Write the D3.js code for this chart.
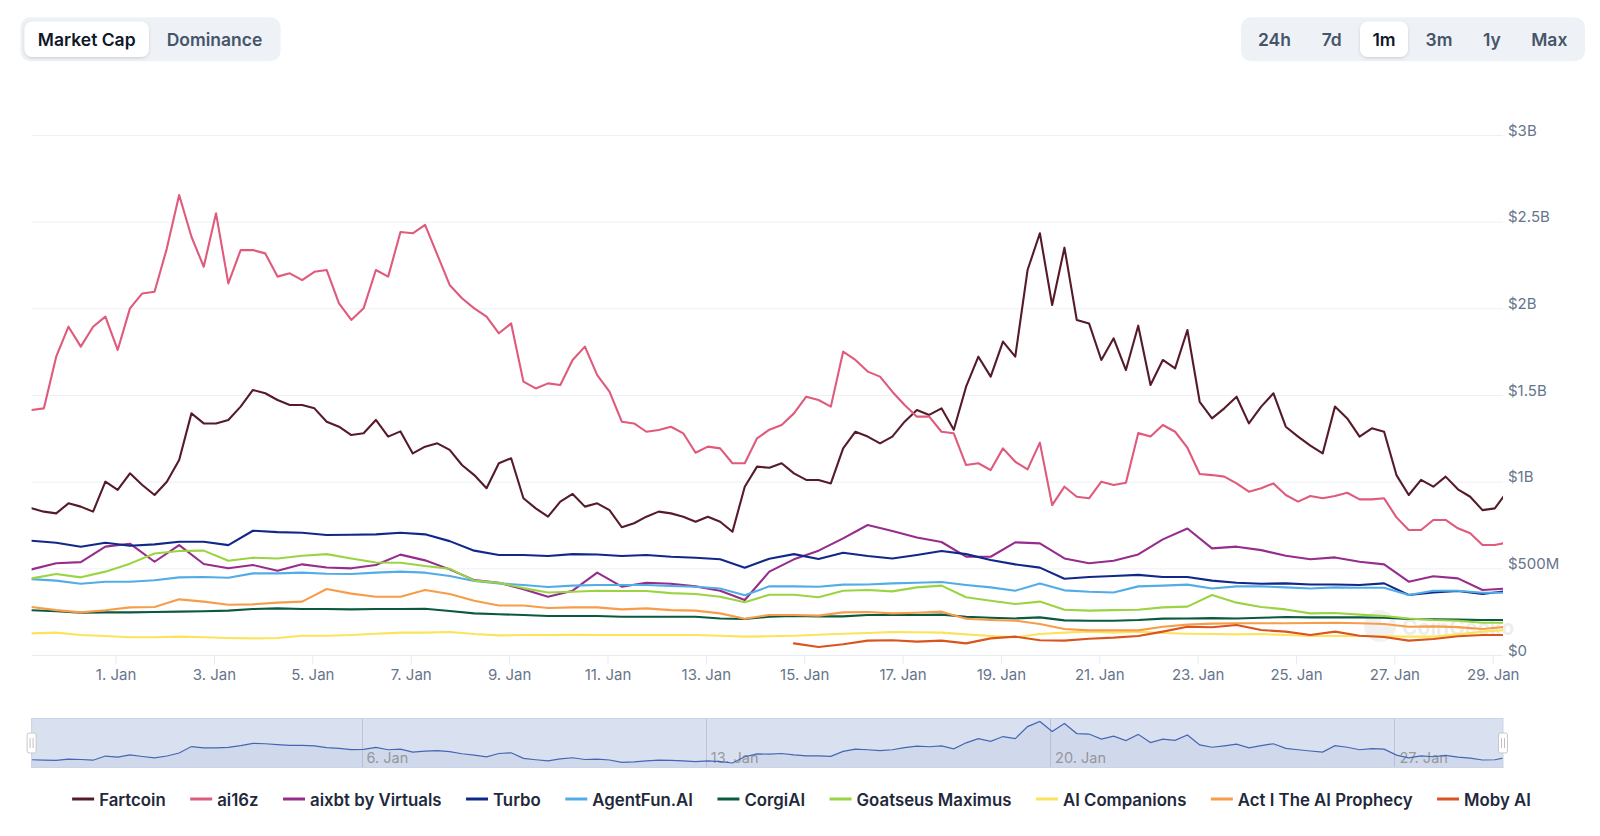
<!DOCTYPE html>
<html><head><meta charset="utf-8">
<script src="https://cdn.jsdelivr.net/npm/d3@7"></script>
<style>
html,body{margin:0;padding:0;background:#fff;}
svg{display:block;font-family:Inter,"Noto Sans",sans-serif;}
</style></head><body>
<svg id="chart" width="1600" height="836"></svg>
<script>
// ---------- DATA (values in $M) ----------
const seriesNames = ["Fartcoin","ai16z","aixbt by Virtuals","Turbo","AgentFun.AI","CorgiAI","Goatseus Maximus","AI Companions","Act I The AI Prophecy","Moby AI"];
const seriesColors = ["#561b29","#e05a7b","#962d8d","#11288a","#52ade6","#0b5a3f","#9bd443","#fbe35c","#f79d4a","#d9541f"];
// 6-hour steps from 30 Dec 07:00 UTC
const fartcoin = [846,827,817,875,856,827,1000,952,1048,981,923,1000,1125,1394,1336,1336,1356,1433,1529,1510,1471,1442,1442,1423,1346,1317,1269,1279,1356,1260,
  1290,1163,1202,1221,1183,1096,1038,962,1106,1135,904,846,798,885,929,856,875,836,737,760,798,827,817,798,769,798,769,711,971,1087,
  1080,1106,1048,1010,1010,990,1192,1288,1260,1221,1260,1346,1413,1385,1423,1300,1548,1721,1606,1808,1721,2221,2433,2019,2350,1933,1913,1702,1827,1644,
  1900,1558,1702,1654,1875,1461,1365,1423,1490,1336,1433,1510,1317,1260,1208,1163,1433,1365,1260,1308,1288,1038,923,1010,971,1029,956,913,836,846,942];
const ai16z = [1413,1423,1721,1894,1779,1894,1952,1760,2000,2086,2096,2346,2654,2413,2240,2548,2144,2336,2336,2317,2183,2202,2163,2211,2221,2029,1933,2000,2221,2183,
  2440,2433,2481,2308,2135,2058,2000,1952,1856,1913,1577,1538,1567,1558,1702,1779,1615,1519,1346,1336,1288,1298,1317,1279,1167,1202,1192,1106,1106,1250,
  1300,1327,1394,1490,1471,1433,1750,1702,1635,1606,1519,1442,1375,1375,1288,1279,1096,1106,1067,1192,1115,1071,1225,865,971,913,904,1000,981,994,
  1280,1260,1327,1288,1196,1044,1038,1029,990,942,962,990,923,885,917,904,917,936,898,898,904,794,721,721,779,779,731,702,635,635,648];
// 12-hour steps from 30 Dec 07:00 UTC
const aixbt = [494,529,536,625,642,538,634,525,500,519,486,523,505,500,519,579,546,494,432,417,379,336,371,475,394,417,411,396,371,317,
  481,552,602,673,750,715,678,652,567,567,650,644,557,529,544,580,667,730,615,625,605,573,552,563,538,523,423,454,442,375,384];
const turbo = [659,648,625,648,630,638,653,653,634,717,709,705,692,694,696,705,696,657,602,577,577,571,582,580,571,577,567,561,552,504,
  555,582,554,590,571,557,577,600,582,548,523,504,440,450,456,462,450,450,429,417,411,413,407,407,404,413,346,361,369,352,369];
const agentFun = [438,429,411,423,423,431,448,450,446,471,471,475,469,467,475,481,475,456,427,413,404,392,400,404,404,404,398,394,384,345,
  396,396,394,406,407,413,417,421,404,390,371,413,373,365,361,396,400,406,384,396,396,390,384,390,388,388,346,371,371,359,359];
const corgiAI = [258,252,244,246,246,248,250,252,256,265,269,265,265,263,265,265,267,254,240,235,231,225,225,225,221,221,221,221,211,208,
  221,225,223,223,231,231,231,233,221,215,211,217,200,198,198,202,210,211,213,211,215,219,217,217,217,215,208,206,204,202,202];
const goatseus = [442,467,448,481,527,586,600,602,544,561,557,573,582,557,534,532,513,498,429,417,386,361,365,371,369,369,357,352,336,304,
  348,348,333,371,375,367,390,400,333,313,294,308,261,256,259,261,275,279,346,302,277,263,240,242,233,225,211,202,198,186,186];
const aiCompanions = [125,129,115,110,102,102,106,102,98,96,98,111,111,115,123,129,129,133,121,113,115,115,117,115,115,115,115,115,111,106,
  108,111,117,123,127,133,131,129,119,110,102,121,129,135,129,135,127,123,121,119,121,115,110,110,110,108,106,106,119,135,144];
const actI = [277,259,246,258,275,277,321,308,290,292,302,308,381,354,336,336,375,352,313,286,286,271,275,275,263,269,259,256,240,209,
  231,231,227,246,248,240,244,250,209,202,198,179,150,142,142,142,163,175,181,183,183,183,185,186,183,179,163,165,161,150,163];
const mobyAI = [null,null,null,null,null,null,null,null,null,null,null,null,null,null,null,null,null,null,null,null,null,null,null,null,null,null,null,null,null,null,null,
  67,46,62,83,85,77,83,67,96,106,85,83,94,100,110,135,163,160,173,144,135,115,135,111,104,83,92,108,115,115];
const seriesValues = [fartcoin,ai16z,aixbt,turbo,agentFun,corgiAI,goatseus,aiCompanions,actI,mobyAI];
const seriesStepHours = [6,6,12,12,12,12,12,12,12,12];

const yTickValues = [0,500,1000,1500,2000,2500,3000];
const yTickLabels = ["$0","$500M","$1B","$1.5B","$2B","$2.5B","$3B"];
const xTickDates = ["2025-01-01","2025-01-03","2025-01-05","2025-01-07","2025-01-09","2025-01-11","2025-01-13","2025-01-15","2025-01-17","2025-01-19","2025-01-21","2025-01-23","2025-01-25","2025-01-27","2025-01-29"];
const navTickDates = ["2025-01-06","2025-01-13","2025-01-20","2025-01-27"];
const typeButtons = ["Market Cap","Dominance"];
const rangeButtons = ["24h","7d","1m","3m","1y","Max"];
const activeRange = "1m";

// ---------- SETUP ----------
const svg = d3.select("#chart");
const P = {left:31.6, right:1503, top:135, bottom:655};
const t0 = Date.UTC(2024,11,30,7), t1 = Date.UTC(2025,0,29,5);
const x = d3.scaleUtc().domain([t0,t1]).range([P.left,P.right]);
const y = d3.scaleLinear().domain([0,3000]).range([P.bottom,P.top]);
const H = 3600e3;
const fmt = d3.utcFormat("%-d. %b");

const defs = svg.append("defs");
defs.append("clipPath").attr("id","plotclip").append("rect")
  .attr("x",P.left).attr("y",90).attr("width",P.right-P.left).attr("height",P.bottom-90+2);
defs.append("clipPath").attr("id","plotclip2").append("rect").attr("x",P.left).attr("y",718.5).attr("width",P.right-P.left).attr("height",49);
const sh = defs.append("filter").attr("id","btnshadow").attr("x","-20%").attr("y","-30%").attr("width","140%").attr("height","160%");
sh.append("feDropShadow").attr("dx",0).attr("dy",1).attr("stdDeviation",1.4).attr("flood-color","#0f172a").attr("flood-opacity",0.16);

// ---------- BUTTONS ----------
function buttonGroup(gx, gy, gw, gh, labels, centers, activeIdx, activeBox){
  const g = svg.append("g");
  g.append("rect").attr("x",gx).attr("y",gy).attr("width",gw).attr("height",gh).attr("rx",10).attr("fill","#eef2f7");
  g.append("rect").attr("x",activeBox[0]).attr("y",activeBox[1]).attr("width",activeBox[2]).attr("height",activeBox[3])
    .attr("rx",8).attr("fill","#fff").attr("filter","url(#btnshadow)");
  g.selectAll("text").data(labels).join("text")
    .attr("x",(d,i)=>centers[i]).attr("y",gy+gh/2+0.5).attr("text-anchor","middle").attr("dominant-baseline","central")
    .attr("font-size",17.5).attr("font-weight",600)
    .attr("fill",(d,i)=>i===activeIdx?"#0f172a":"#475569").text(d=>d);
}
buttonGroup(20.4,17.3,260.2,43.9,typeButtons,[86.7,214.5],0,[24.5,21.4,124.5,35.7]);
buttonGroup(1241,17.3,344,43.9,rangeButtons,[1274.5,1331.7,1384,1439,1491.8,1549.3],rangeButtons.indexOf(activeRange),[1360,21.4,48,35.7]);

// ---------- GRID + AXES ----------
const grid = svg.append("g");
grid.selectAll("line").data(yTickValues.filter(v=>v>0)).join("line")
  .attr("x1",P.left).attr("x2",P.right).attr("y1",d=>y(d)+0.5).attr("y2",d=>y(d)+0.5)
  .attr("stroke","#eef0f5").attr("stroke-width",1);

const yAxis = svg.append("g").attr("transform",`translate(1508,0)`)
  .call(d3.axisRight(y).tickValues(yTickValues).tickFormat((d,i)=>yTickLabels[i]).tickSize(0).tickPadding(0));
yAxis.select(".domain").remove();
yAxis.selectAll("text").attr("dy","0.35em").attr("y",-5).attr("font-size",15).attr("fill","#66758c").attr("font-family","Inter,sans-serif");

const xAxis = svg.append("g").attr("transform",`translate(0,${P.bottom+0.5})`)
  .call(d3.axisBottom(x).tickValues(xTickDates.map(s=>new Date(s+"T00:00:00Z"))).tickFormat(fmt).tickSize(9).tickPadding(5));
xAxis.select(".domain").attr("stroke","#e8ebf1").attr("d",`M${P.left},0H${P.right}`);
xAxis.selectAll(".tick line").attr("stroke","#e8ebf1");
xAxis.selectAll("text").attr("font-size",15).attr("fill","#66758c").attr("font-family","Inter,sans-serif");

// ---------- WATERMARK ----------
const wm = svg.append("g").attr("opacity",0.3);
wm.append("circle").attr("cx",1380).attr("cy",626).attr("r",16).attr("fill","#d2d2d2");
wm.append("circle").attr("cx",1385).attr("cy",621).attr("r",4).attr("fill","#ffffff");
wm.append("text").attr("x",1402).attr("y",627).attr("dominant-baseline","central").attr("font-size",21).attr("font-weight",700)
  .attr("fill","#c4c4c4").text("CoinGecko");

// ---------- SERIES ----------
function pts(vals, step){ return vals.map((v,k)=>({t:t0+k*step*H, v})); }
const line = d3.line().defined(d=>d.v!=null).x(d=>x(d.t)).y(d=>y(d.v));
const sg = svg.append("g").attr("clip-path","url(#plotclip)");
seriesValues.forEach((vals,i)=>{
  sg.append("path").datum(pts(vals,seriesStepHours[i])).attr("d",line)
    .attr("fill","none").attr("stroke",seriesColors[i]).attr("stroke-width",2.1).attr("stroke-linejoin","round").attr("stroke-linecap","round");
});

// ---------- NAVIGATOR ----------
const N = {top:718.5, bottom:767.5};
const nav = svg.append("g");
nav.append("rect").attr("x",P.left).attr("y",N.top).attr("width",P.right-P.left).attr("height",N.bottom-N.top)
  .attr("fill","rgba(102,133,194,0.25)");
const navDates = navTickDates.map(s=>new Date(s+"T00:00:00Z"));
nav.selectAll("line.ng").data(navDates).join("line").attr("class","ng")
  .attr("x1",d=>Math.round(x(d))+0.5).attr("x2",d=>Math.round(x(d))+0.5).attr("y1",N.top).attr("y2",N.bottom)
  .attr("stroke","#bcc5d8").attr("stroke-width",1);
nav.selectAll("text").data(navDates).join("text")
  .attr("x",d=>x(d)+5).attr("y",757).attr("dominant-baseline","central")
  .attr("font-size",14.5).attr("fill","#9a9a9a").text(d=>fmt(d));
const navPts = pts(fartcoin,6);
const ny = d3.scaleLinear().domain(d3.extent(fartcoin)).range([763,721.5]);
nav.append("path").datum(navPts).attr("clip-path","url(#plotclip2)")
  .attr("d",d3.area().x(d=>x(d.t)).y0(N.bottom).y1(d=>ny(d.v))).attr("fill","#335cad").attr("fill-opacity",0.05);
nav.append("path").datum(navPts).attr("clip-path","url(#plotclip2)")
  .attr("d",d3.line().x(d=>x(d.t)).y(d=>ny(d.v))).attr("fill","none").attr("stroke","#4466b4").attr("stroke-width",1.2);
nav.append("rect").attr("x",P.left).attr("y",N.top).attr("width",P.right-P.left).attr("height",N.bottom-N.top)
  .attr("fill","none").attr("stroke","#cbd3e4").attr("stroke-width",1);
[P.left,P.right].forEach(hx=>{
  const hg = nav.append("g").attr("transform",`translate(${hx},${733})`);
  hg.append("rect").attr("x",-4.5).attr("y",0).attr("width",9).attr("height",20).attr("rx",2)
    .attr("fill","#fff").attr("stroke","#c8c8c8").attr("stroke-width",1);
  hg.append("line").attr("x1",-1.5).attr("x2",-1.5).attr("y1",5).attr("y2",15).attr("stroke","#c0c0c0");
  hg.append("line").attr("x1",1.5).attr("x2",1.5).attr("y1",5).attr("y2",15).attr("stroke","#c0c0c0");
});

// ---------- LEGEND ----------
const lg = svg.append("g");
const items = lg.selectAll("g").data(seriesNames).join("g");
items.append("line").attr("x1",0).attr("x2",22).attr("y1",0).attr("y2",0)
  .attr("stroke",(d,i)=>seriesColors[i]).attr("stroke-width",3);
items.append("text").attr("x",27).attr("y",0.5).attr("dominant-baseline","central")
  .attr("font-size",16.8).attr("font-weight",600).attr("fill","#1e293b").text(d=>d);
const widths=[];
items.each(function(){ widths.push(27 + this.querySelector("text").getComputedTextLength()); });
const gap = 24.5;
const total = d3.sum(widths) + gap*(widths.length-1);
let start = 801.5 - total/2;
items.attr("transform",(d,i)=>{ const tx = start; start += widths[i]+gap; return `translate(${tx},799)`; });
</script>
</body></html>
